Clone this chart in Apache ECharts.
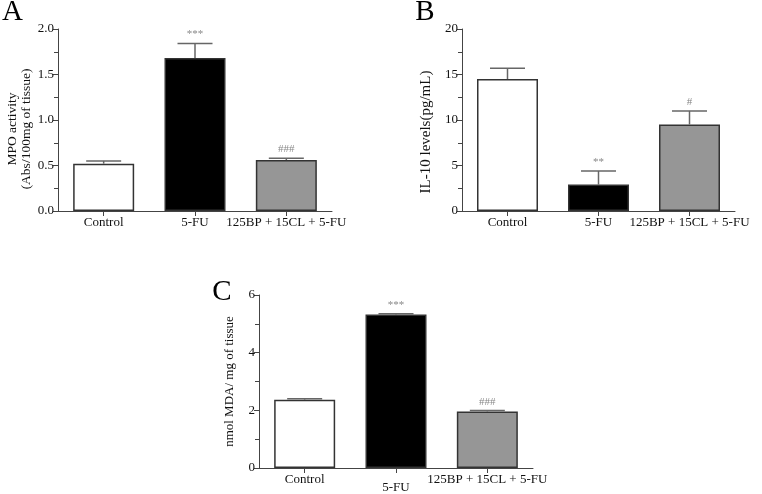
<!DOCTYPE html>
<html>
<head>
<meta charset="utf-8">
<script src="https://cdn.jsdelivr.net/npm/echarts@6/dist/echarts.min.js"></script>
<style>
html,body{margin:0;padding:0;background:#fff;}
#c{width:762px;height:494px;}
</style>
</head>
<body>
<div id="c"></div>
<script>
// ---- data ----
var categories = ['Control', '5-FU', '125BP + 15CL + 5-FU'];
var barColors = ['#ffffff', '#000000', '#969696'];

var mpoMean = [0.52, 1.68, 0.56];
var mpoErr = [0.03, 0.16, 0.02];
var mpoSig = ['', '***', '###'];

var il10Mean = [14.5, 2.9, 9.5];
var il10Err = [1.2, 1.5, 1.5];
var il10Sig = ['', '**', '#'];

var mdaMean = [2.37, 5.32, 1.96];
var mdaErr = [0.03, 0.03, 0.03];
var mdaSig = ['', '***', '###'];

var yTicksA = {min: 0, max: 2, interval: 0.5};
var yTicksB = {min: 0, max: 20, interval: 5};
var yTicksC = {min: 0, max: 6, interval: 2};

// ---- chart ----
var FONT = 'Liberation Serif';
var AX = '#444';
var chart = echarts.init(document.getElementById('c'));

var grids = [
  {left: 58, top: 29, width: 274, height: 182},
  {left: 462, top: 29, width: 273, height: 182},
  {left: 259, top: 295, width: 274, height: 182}
];

function xAxis(i, special) {
  var data = categories.map(function (c, k) {
    if (special && k === 1) return {value: c, textStyle: {padding: [8, 0, 0, 0]}};
    return c;
  });
  return {
    type: 'category', gridIndex: i, data: data,
    axisLine: {lineStyle: {color: AX, width: 1}},
    axisTick: {show: true, inside: false, alignWithLabel: true, length: 5, lineStyle: {color: AX}},
    axisLabel: {inside: false, fontFamily: FONT, fontSize: 13, color: '#111', margin: 5, interval: 0},
    splitLine: {show: false}
  };
}
function yAxis(i, t, name, gap, nameSize, lh, pad, fmt) {
  return {
    type: 'value', gridIndex: i, min: t.min, max: t.max, interval: t.interval,
    name: name, nameLocation: 'middle', nameGap: gap, nameRotate: 90,
    nameTextStyle: {fontFamily: FONT, fontSize: nameSize, color: '#111', lineHeight: lh, padding: pad},
    axisLine: {show: true, lineStyle: {color: AX, width: 1}},
    axisTick: {show: true, inside: false, length: 5, lineStyle: {color: AX}},
    minorTick: {show: true, splitNumber: 2, length: 4, lineStyle: {color: AX}},
    axisLabel: {inside: false, fontFamily: FONT, fontSize: 13, color: '#111', margin: 4,
      formatter: fmt},
    splitLine: {show: false},
    minorSplitLine: {show: false}
  };
}

function barSeries(i, mean) {
  return {
    type: 'bar', xAxisIndex: i, yAxisIndex: i, barWidth: 61,
    data: mean.map(function (v, k) {
      return {value: v, itemStyle: {color: barColors[k]}};
    }),
    itemStyle: {borderColor: '#333', borderWidth: 1.5},
    emphasis: {disabled: true},
    silent: true, z: 2
  };
}
function errSeries(i, mean, err, sig) {
  return {
    type: 'custom', xAxisIndex: i, yAxisIndex: i, z: 3, silent: true,
    data: mean.map(function (v, k) { return [k, v, err[k]]; }),
    renderItem: function (params, api) {
      var k = api.value(0), m = api.value(1), e = api.value(2);
      var base = api.coord([k, m]);
      var top = api.coord([k, m + e]);
      var half = 17.5;
      var st = {stroke: '#666', lineWidth: 1.5};
      return {
        type: 'group',
        children: [
          {type: 'line', shape: {x1: base[0], y1: base[1], x2: top[0], y2: top[1]}, style: st},
          {type: 'line', shape: {x1: top[0] - half, y1: top[1], x2: top[0] + half, y2: top[1]}, style: st},
          {type: 'text', style: {text: sig[params.dataIndex], x: top[0], y: top[1] - 9,
            textAlign: 'center', textVerticalAlign: 'middle', fill: '#888',
            font: '11px "' + FONT + '"'}}
        ]
      };
    }
  };
}

var letters = [['A', 12.5, 12.5], ['B', 425, 12.5], ['C', 222, 292]];

chart.setOption({
  animation: false,
  backgroundColor: '#fff',
  grid: grids,
  xAxis: [xAxis(0), xAxis(1), xAxis(2, true)],
  yAxis: [
    yAxis(0, yTicksA, 'MPO activity\n(Abs/100mg of tissue)', 25, 13.5, 13.5, [0, 18, 0, 0], function (v) { return v.toFixed(1); }),
    yAxis(1, yTicksB, 'IL-10 levels(pg/mL)', 27, 15, 17, [0, 24, 0, 0], null),
    yAxis(2, yTicksC, 'nmol MDA/ mg of tissue', 22, 13, 15, [0, 0, 0, 0], null)
  ],
  series: [
    barSeries(0, mpoMean), errSeries(0, mpoMean, mpoErr, mpoSig),
    barSeries(1, il10Mean), errSeries(1, il10Mean, il10Err, il10Sig),
    barSeries(2, mdaMean), errSeries(2, mdaMean, mdaErr, mdaSig)
  ],
  graphic: letters.map(function (l) {
    return {type: 'text', x: l[1], y: l[2], style: {text: l[0], textAlign: 'center',
      textVerticalAlign: 'middle', fill: '#000', font: '29px "' + FONT + '"'}};
  })
});
</script>
</body>
</html>
